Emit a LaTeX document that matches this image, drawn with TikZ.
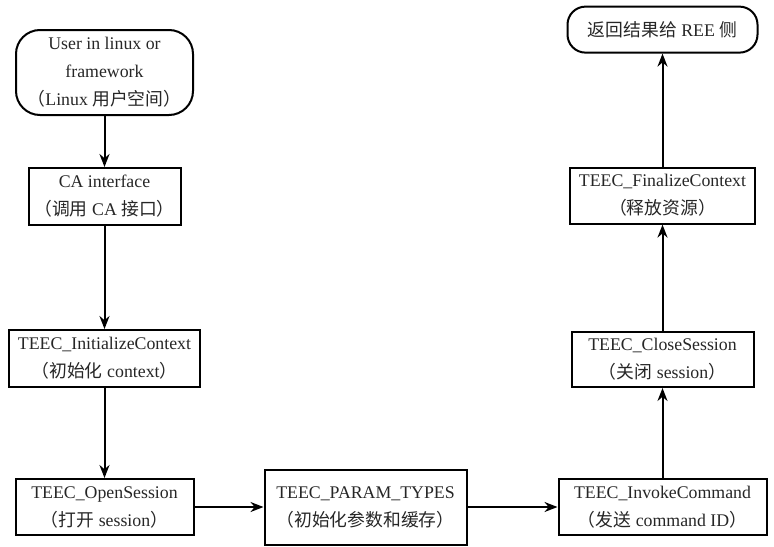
\documentclass[tikz,border=0pt]{standalone}
\usepackage{fontspec}
\setmainfont{Liberation Serif}
\newfontfamily\zh{Noto Sans CJK SC}
\usepackage{tikz}
\usetikzlibrary{arrows.meta,positioning,shapes}

\begin{document}
\begin{tikzpicture}[node distance=0.8cm]
	\tikzstyle{item}
	  =[draw, line width=1pt, rectangle, align=center,
	  inner xsep=2pt, text=black!85,
	  font=\fontsize{8.9}{14}\selectfont]
	\tikzstyle{term}
	  =[item, rounded corners=12pt]
	\tikzstyle{arr}
	  =[line width=1pt, -{Stealth[length=6.5pt,width=5pt]}]

	\path[use as bounding box] (0,0) rectangle (387pt,-273pt);

	\node[term, minimum width=88.5pt, minimum height=42.5pt] (A)
	  at (52.25pt,-36.25pt)
	  {User in linux or\\framework\\{\zh （}Linux {\zh 用户空间）}};
	\node[item, minimum width=76pt, minimum height=28.5pt] (B)
	  [below=25.5pt of A] {CA interface\\{\zh （调用} CA {\zh 接口）}};
	\node[item, minimum width=95.5pt, minimum height=28.5pt] (C)
	  [below=51.5pt of B] {TEEC\_InitializeContext\\{\zh （初始化} context{\zh ）}};
	\node[item, minimum width=89pt, minimum height=28pt] (D)
	  [below=45pt of C] {TEEC\_OpenSession\\{\zh （打开} session{\zh ）}};
	\node[item, minimum width=101pt, minimum height=37.5pt] (E)
	  [right=34.5pt of D] {TEEC\_PARAM\_TYPES\\{\zh （初始化参数和缓存）}};
	\node[item, minimum width=104pt, minimum height=28pt] (F)
	  [right=45pt of E] {TEEC\_InvokeCommand\\{\zh （发送} command ID{\zh ）}};
	\node[item, minimum width=91pt, minimum height=27.5pt] (G)
	  [above=45pt of F] {TEEC\_CloseSession\\{\zh （关闭} session{\zh ）}};
	\node[item, minimum width=92.5pt, minimum height=28pt] (H)
	  [above=53pt of G] {TEEC\_FinalizeContext\\{\zh （释放资源）}};
	\node[term, rounded corners=9pt, minimum width=95pt, minimum height=23pt] (I)
	  [above=56.5pt of H] {{\zh 返回结果给} REE {\zh 侧}};

	\draw[arr] (A) -- (B);
	\draw[arr] (B) -- (C);
	\draw[arr] (C) -- (D);
	\draw[arr] (D) -- (E);
	\draw[arr] (E) -- (F);
	\draw[arr] (F) -- (G);
	\draw[arr] (G) -- (H);
	\draw[arr] (H) -- (I);
\end{tikzpicture}
\end{document}
